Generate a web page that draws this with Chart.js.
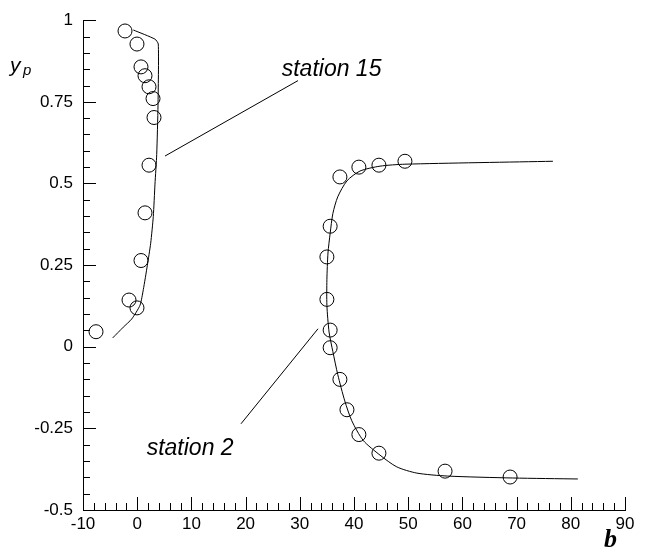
<!DOCTYPE html>
<html>
<head>
<meta charset="utf-8">
<script src="https://cdn.jsdelivr.net/npm/chart.js@4.4.1/dist/chart.umd.min.js"></script>
<style>
    html, body { margin: 0; padding: 0; background: #fff; }
    #wrap { width: 650px; height: 556px; }
</style>
</head>
<body>
<div id="wrap"><canvas id="chart" width="650" height="556"></canvas></div>
<script>
"use strict";

// axis ticks
var xTicks = [-10, 0, 10, 20, 30, 40, 50, 60, 70, 80, 90];
var yTicks = [-0.5, -0.25, 0, 0.25, 0.5, 0.75, 1];

// station 15: measured points and computed profile
var st15_b = [-2.25, -0.04, 0.70, 1.44, 2.18, 2.92, 3.10, 2.18, 1.44, 0.70, -1.51, -0.04, -7.60];
var st15_y = [0.967, 0.927, 0.857, 0.830, 0.796, 0.760, 0.702, 0.556, 0.410, 0.264, 0.143, 0.119, 0.046];
var st15_line_b = [-0.72, 3.28, 3.89, 3.84, 3.60, 3.28, 2.97, 2.49, 1.86, 1.13, 0.52, -1.01, -2.56, -4.52];
var st15_line_y = [0.970, 0.942, 0.927, 0.740, 0.589, 0.498, 0.399, 0.317, 0.248, 0.175, 0.127, 0.085, 0.060, 0.027];

// station 2: measured points and computed profile
var st2_b = [37.4, 40.9, 44.6, 49.4, 35.6, 35.0, 35.0, 35.6, 35.6, 37.4, 38.7, 40.9, 44.6, 56.8, 68.8];
var st2_y = [0.520, 0.550, 0.556, 0.568, 0.369, 0.275, 0.145, 0.051, -0.003, -0.100, -0.193, -0.269, -0.326, -0.381, -0.399];
var st2_line_b = [76.7, 49.4, 44.8, 41.1, 38.7, 37.0, 36.1, 35.6, 35.2, 35.0, 35.0, 35.4, 36.1, 37.0, 38.3, 39.6, 41.7, 44.8, 47.9, 51.6, 57.2, 69.3, 81.3];
var st2_line_y = [0.568, 0.559, 0.553, 0.538, 0.508, 0.459, 0.408, 0.347, 0.287, 0.205, 0.127, 0.045, -0.015, -0.085, -0.166, -0.227, -0.287, -0.332, -0.368, -0.387, -0.396, -0.402, -0.405];

// annotation leaders and labels (data coords)
var lead15_b = [5.13, 29.67];
var lead15_y = [0.584, 0.815];
var lead2_b = [33.36, 19.15];
var lead2_y = [0.055, -0.236];
var labels = [
    { text: "station 15", b: 26.66, y: 0.830 },
    { text: "station 2", b: 1.75, y: -0.333 }
];

function pts(xs, ys) {
    var out = [];
    for (var i = 0; i < xs.length; i++) {
        out.push({ x: xs[i], y: ys[i] });
    }
    return out;
}

function lineSet(xs, ys, tension) {
    return {
        data: pts(xs, ys),
        showLine: true,
        borderColor: "#000",
        borderWidth: 1,
        pointRadius: 0,
        tension: tension,
    };
}

function markSet(xs, ys) {
    return {
        data: pts(xs, ys),
        showLine: false,
        pointStyle: "circle",
        pointRadius: 7,
        pointHoverRadius: 7,
        pointBorderWidth: 1,
        pointBackgroundColor: "rgba(0,0,0,0)",
        pointBorderColor: "#000",
    };
}

// inward ticks, annotation texts and axis titles
var decorations = {
    id: "decorations",
    afterDraw: function (chart) {
        var ctx = chart.ctx;
        var xs = chart.scales.x;
        var ys = chart.scales.y;
        var area = chart.chartArea;
        ctx.save();
        ctx.strokeStyle = "#000";
        ctx.lineWidth = 1;
        ctx.beginPath();
        var v, p, len;
        for (var i = 0; i <= 50; i++) {
            v = -10 + i * 2;
            p = Math.round(xs.getPixelForValue(v)) + 0.5;
            len = (v % 10 === 0) ? 13 : 7;
            ctx.moveTo(p, area.bottom);
            ctx.lineTo(p, area.bottom - len);
        }
        for (var j = 0; j <= 30; j++) {
            v = -0.5 + j * 0.05;
            p = Math.round(ys.getPixelForValue(v)) + 0.5;
            len = (j % 5 === 0) ? 13 : 7;
            ctx.moveTo(area.left, p);
            ctx.lineTo(area.left + len, p);
        }
        ctx.stroke();

        ctx.fillStyle = "#000";
        ctx.textBaseline = "alphabetic";
        ctx.textAlign = "left";
        ctx.font = "italic 23px 'Liberation Sans', Arial, sans-serif";
        labels.forEach(function (l) {
            ctx.fillText(l.text, xs.getPixelForValue(l.b), ys.getPixelForValue(l.y));
        });

        ctx.font = "italic 21px 'Liberation Sans', Arial, sans-serif";
        ctx.fillText("y", 10, 72);
        ctx.font = "italic 15px 'Liberation Sans', Arial, sans-serif";
        ctx.fillText("p", 23, 75);

        ctx.font = "bold italic 26px 'Liberation Serif', 'Times New Roman', serif";
        ctx.fillText("b", 604, 547);
        ctx.restore();
    },
};

var tickFont = { family: "'Liberation Sans', Arial, sans-serif", size: 17 };

new Chart(document.getElementById("chart"), {
    type: "scatter",
    data: {
        datasets: [
            lineSet(st15_line_b, st15_line_y, 0.2),
            lineSet(st2_line_b, st2_line_y, 0.25),
            lineSet(lead15_b, lead15_y, 0),
            lineSet(lead2_b, lead2_y, 0),
            markSet(st15_b, st15_y),
            markSet(st2_b, st2_y),
        ],
    },
    options: {
        responsive: false,
        animation: false,
        events: [],
        layout: { padding: { left: 0, top: 16, right: 25, bottom: 0 } },
        plugins: {
            legend: { display: false },
            tooltip: { enabled: false },
        },
        scales: {
            x: {
                type: "linear",
                min: -10,
                max: 90,
                afterBuildTicks: function (s) {
                    s.ticks = xTicks.map(function (v) { return { value: v }; });
                },
                afterFit: function (s) { s.height = 46; },
                grid: { display: false, drawTicks: false },
                border: { display: true, color: "#000", width: 1 },
                ticks: {
                    color: "#000",
                    font: tickFont,
                    padding: 4,
                    autoSkip: false,
                    maxRotation: 0,
                    callback: function (v) { return String(v); },
                },
            },
            y: {
                type: "linear",
                min: -0.5,
                max: 1,
                afterBuildTicks: function (s) {
                    s.ticks = yTicks.map(function (v) { return { value: v }; });
                },
                afterFit: function (s) { s.width = 83; },
                grid: { display: false, drawTicks: false },
                border: { display: true, color: "#000", width: 1 },
                ticks: {
                    color: "#000",
                    font: tickFont,
                    padding: 10,
                    autoSkip: false,
                    callback: function (v) { return String(v); },
                },
            },
        },
    },
    plugins: [decorations],
});
</script>
</body>
</html>
